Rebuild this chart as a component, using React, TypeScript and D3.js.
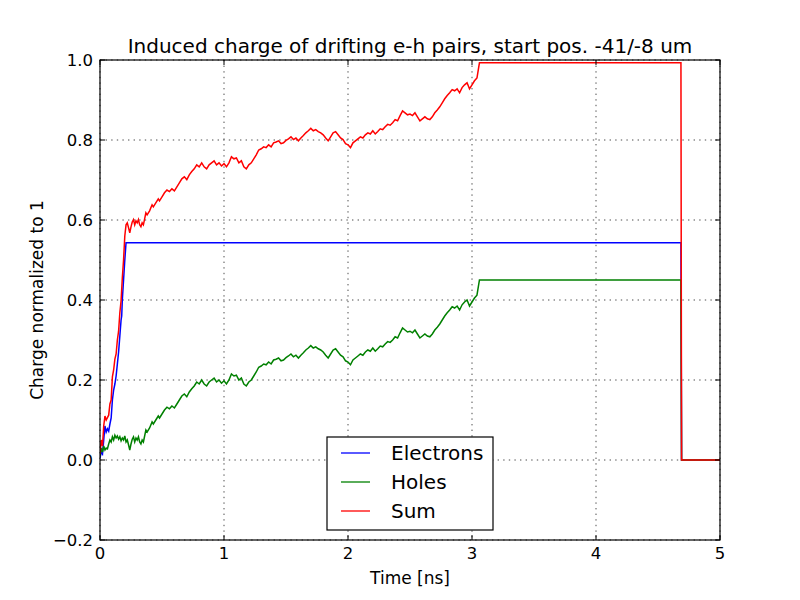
import * as d3 from "d3";

// electrons (blue)
const eTime = [0, 0.01, 0.02, 0.03, 0.04, 0.05, 0.06, 0.07, 0.08, 0.09, 0.1, 0.11, 0.12, 0.13, 0.14, 0.15, 0.16, 0.17, 0.175, 0.18, 0.19, 0.2, 0.21, 4.685, 4.69, 5.0];
const electrons = [0.005, 0.02, 0.015, 0.05, 0.085, 0.07, 0.078, 0.072, 0.09, 0.105, 0.15, 0.175, 0.19, 0.21, 0.24, 0.27, 0.31, 0.35, 0.36, 0.4, 0.45, 0.5, 0.543, 0.543, 0, 0];

// holes (green) and sum (red) share one time axis
const time = [
  0, 0.01, 0.02, 0.03, 0.04, 0.05, 0.06, 0.07, 0.08, 0.09, 0.1, 0.11, 0.12, 0.13, 0.14, 0.15, 0.16, 0.17, 0.18, 0.19,
  0.2, 0.21, 0.22, 0.23, 0.24, 0.25, 0.26, 0.27, 0.28, 0.29, 0.3, 0.31, 0.32, 0.33, 0.34, 0.35, 0.36, 0.37, 0.38, 0.4,
  0.42, 0.43, 0.45, 0.47, 0.48, 0.5, 0.52, 0.54, 0.56, 0.58, 0.6, 0.62, 0.64, 0.66, 0.68, 0.7, 0.72, 0.74, 0.76, 0.78,
  0.8, 0.82, 0.84, 0.86, 0.88, 0.9, 0.92, 0.94, 0.96, 0.98, 1.0, 1.02, 1.04, 1.06, 1.08, 1.1, 1.12, 1.14, 1.16, 1.18,
  1.2, 1.22, 1.24, 1.26, 1.28, 1.3, 1.32, 1.34, 1.36, 1.38, 1.4, 1.42, 1.44, 1.46, 1.48, 1.5, 1.52, 1.54, 1.56, 1.58,
  1.6, 1.62, 1.64, 1.66, 1.68, 1.7, 1.72, 1.74, 1.76, 1.78, 1.8, 1.82, 1.84, 1.86, 1.88, 1.9, 1.92, 1.94, 1.96, 1.98,
  2.0, 2.02, 2.04, 2.06, 2.08, 2.1, 2.12, 2.14, 2.16, 2.18, 2.2, 2.22, 2.24, 2.26, 2.28, 2.3, 2.32, 2.34, 2.36, 2.38,
  2.4, 2.42, 2.44, 2.46, 2.48, 2.5, 2.52, 2.54, 2.56, 2.58, 2.6, 2.62, 2.64, 2.66, 2.68, 2.7, 2.72, 2.74, 2.76, 2.78,
  2.8, 2.82, 2.84, 2.86, 2.88, 2.9, 2.92, 2.94, 2.96, 2.98, 3.0, 3.02, 3.04, 3.06, 4.685, 4.69, 5.0,
];
const holes = [
  0.01, 0.03, 0.02, 0.035, 0.025, 0.03, 0.028, 0.04, 0.05, 0.045, 0.058, 0.05, 0.062, 0.055, 0.06, 0.052, 0.058, 0.048, 0.055, 0.05,
  0.06, 0.045, 0.05, 0.038, 0.025, 0.04, 0.052, 0.058, 0.045, 0.055, 0.05, 0.058, 0.045, 0.04, 0.05, 0.045, 0.06, 0.075, 0.07, 0.08,
  0.095, 0.09, 0.1, 0.11, 0.105, 0.115, 0.125, 0.132, 0.128, 0.135, 0.13, 0.14, 0.15, 0.16, 0.165, 0.158, 0.17, 0.178, 0.185, 0.195,
  0.19, 0.2, 0.19, 0.185, 0.195, 0.2, 0.205, 0.195, 0.2, 0.192, 0.198, 0.19, 0.2, 0.215, 0.21, 0.212, 0.2, 0.205, 0.19, 0.185,
  0.195, 0.2, 0.21, 0.22, 0.232, 0.235, 0.24, 0.238, 0.245, 0.24, 0.25, 0.252, 0.255, 0.248, 0.25, 0.256, 0.26, 0.265, 0.258, 0.262,
  0.255, 0.262, 0.268, 0.275, 0.28, 0.286, 0.28, 0.283, 0.278, 0.275, 0.27, 0.262, 0.255, 0.265, 0.275, 0.278, 0.27, 0.262, 0.258, 0.248,
  0.245, 0.238, 0.25, 0.255, 0.26, 0.265, 0.262, 0.27, 0.275, 0.272, 0.28, 0.272, 0.278, 0.285, 0.283, 0.29, 0.296, 0.294, 0.3, 0.308,
  0.305, 0.318, 0.33, 0.325, 0.32, 0.322, 0.318, 0.325, 0.315, 0.305, 0.31, 0.315, 0.31, 0.308, 0.315, 0.325, 0.332, 0.34, 0.35, 0.36,
  0.368, 0.375, 0.383, 0.38, 0.385, 0.375, 0.388, 0.395, 0.4, 0.385, 0.395, 0.405, 0.412, 0.45, 0.45, 0, 0,
];
const sum = [
  0.015, 0.05, 0.035, 0.085, 0.11, 0.1, 0.106, 0.112, 0.14, 0.15, 0.208, 0.225, 0.252, 0.265, 0.3, 0.322, 0.368, 0.398, 0.455, 0.5,
  0.56, 0.588, 0.593, 0.581, 0.568, 0.583, 0.595, 0.601, 0.588, 0.598, 0.593, 0.601, 0.588, 0.583, 0.593, 0.588, 0.603, 0.618, 0.613, 0.623,
  0.638, 0.633, 0.643, 0.653, 0.648, 0.658, 0.668, 0.675, 0.671, 0.678, 0.673, 0.683, 0.693, 0.703, 0.708, 0.701, 0.713, 0.721, 0.728, 0.738,
  0.733, 0.743, 0.733, 0.728, 0.738, 0.743, 0.748, 0.738, 0.743, 0.735, 0.741, 0.733, 0.743, 0.758, 0.753, 0.755, 0.743, 0.748, 0.733, 0.728,
  0.738, 0.743, 0.753, 0.763, 0.775, 0.778, 0.783, 0.781, 0.788, 0.783, 0.793, 0.795, 0.798, 0.791, 0.793, 0.799, 0.803, 0.808, 0.801, 0.805,
  0.798, 0.805, 0.811, 0.818, 0.823, 0.829, 0.823, 0.826, 0.821, 0.818, 0.813, 0.805, 0.798, 0.808, 0.818, 0.821, 0.813, 0.805, 0.801, 0.791,
  0.788, 0.781, 0.793, 0.798, 0.803, 0.808, 0.805, 0.813, 0.818, 0.815, 0.823, 0.815, 0.821, 0.828, 0.826, 0.833, 0.839, 0.837, 0.843, 0.851,
  0.848, 0.861, 0.873, 0.868, 0.863, 0.865, 0.861, 0.868, 0.858, 0.848, 0.853, 0.858, 0.853, 0.851, 0.858, 0.868, 0.875, 0.883, 0.893, 0.903,
  0.911, 0.918, 0.926, 0.923, 0.928, 0.918, 0.931, 0.938, 0.943, 0.928, 0.938, 0.948, 0.955, 0.993, 0.993, 0, 0,
];

const xTicks = [0, 1, 2, 3, 4, 5];
const yTicks = [-0.2, 0, 0.2, 0.4, 0.6, 0.8, 1.0];
const legendItems = [
  { name: "Electrons", color: "#0000ff" },
  { name: "Holes", color: "#008000" },
  { name: "Sum", color: "#ff0000" },
];

const W = 800;
const H = 600;
const m = { left: 100, right: 80, top: 60, bottom: 60 };
const font = "DejaVu Sans, sans-serif";

export default function App() {
  const x = d3.scaleLinear().domain([0, 5]).range([m.left, W - m.right]);
  const y = d3.scaleLinear().domain([-0.2, 1.0]).range([H - m.bottom, m.top]);
  const line = d3.line<[number, number]>().x((d) => x(d[0])).y((d) => y(d[1]));

  const series = [
    { pts: eTime.map((t, i) => [t, electrons[i]] as [number, number]), color: "#0000ff" },
    { pts: time.map((t, i) => [t, holes[i]] as [number, number]), color: "#008000" },
    { pts: time.map((t, i) => [t, sum[i]] as [number, number]), color: "#ff0000" },
  ];

  const fmt = (v: number) => d3.format(".1f")(v).replace("-", "\u2212");
  const x0 = m.left, x1 = W - m.right, y0 = m.top, y1 = H - m.bottom;
  const tl = 5;

  return (
    <svg width={W} height={H} style={{ position: "absolute", left: 0, top: 0, background: "#fff" }} fontFamily={font}>
      <rect x={0} y={0} width={W} height={H} fill="#fff" />
      <defs>
        <clipPath id="plot">
          <rect x={x0} y={y0} width={x1 - x0} height={y1 - y0} />
        </clipPath>
      </defs>
      {/* grid */}
      <g stroke="#000" strokeWidth={0.7} strokeDasharray="1.4,4.2">
        {xTicks.map((t) => (
          <line key={"gx" + t} x1={x(t)} x2={x(t)} y1={y0} y2={y1} />
        ))}
        {yTicks.map((t) => (
          <line key={"gy" + t} x1={x0} x2={x1} y1={y(t)} y2={y(t)} />
        ))}
      </g>
      <g clipPath="url(#plot)" fill="none" strokeWidth={1.5}>
        {series.map((s, i) => (
          <path key={i} d={line(s.pts) ?? ""} stroke={s.color} />
        ))}
      </g>
      {/* frame + ticks */}
      <rect x={x0} y={y0} width={x1 - x0} height={y1 - y0} fill="none" stroke="#000" strokeWidth={1.2} />
      <g stroke="#000" strokeWidth={1}>
        {xTicks.map((t) => (
          <g key={"tx" + t}>
            <line x1={x(t)} x2={x(t)} y1={y1} y2={y1 - tl} />
            <line x1={x(t)} x2={x(t)} y1={y0} y2={y0 + tl} />
          </g>
        ))}
        {yTicks.map((t) => (
          <g key={"ty" + t}>
            <line x1={x0} x2={x0 + tl} y1={y(t)} y2={y(t)} />
            <line x1={x1} x2={x1 - tl} y1={y(t)} y2={y(t)} />
          </g>
        ))}
      </g>
      <g fontSize={16.5} fill="#000">
        {xTicks.map((t) => (
          <text key={"lx" + t} x={x(t)} y={y1 + 19} textAnchor="middle">{t}</text>
        ))}
        {yTicks.map((t) => (
          <text key={"ly" + t} x={x0 - 7} y={y(t) + 6} textAnchor="end">{fmt(t)}</text>
        ))}
      </g>
      <text x={(x0 + x1) / 2} y={53} textAnchor="middle" fontSize={20}>
        Induced charge of drifting e-h pairs, start pos. -41/-8 um
      </text>
      <text x={(x0 + x1) / 2} y={584} textAnchor="middle" fontSize={17}>Time [ns]</text>
      <text transform={`translate(43,${(y0 + y1) / 2}) rotate(-90)`} textAnchor="middle" fontSize={17}>
        Charge normalized to 1
      </text>
      {/* legend */}
      <g>
        <rect x={327} y={437} width={166} height={93} fill="#fff" stroke="#000" strokeWidth={1.2} />
        {legendItems.map((d, i) => (
          <g key={d.name} transform={`translate(0,${453 + i * 29})`}>
            <line x1={341} x2={370} y1={0} y2={0} stroke={d.color} strokeWidth={1.3} />
            <text x={391} y={7} fontSize={20}>{d.name}</text>
          </g>
        ))}
      </g>
    </svg>
  );
}
